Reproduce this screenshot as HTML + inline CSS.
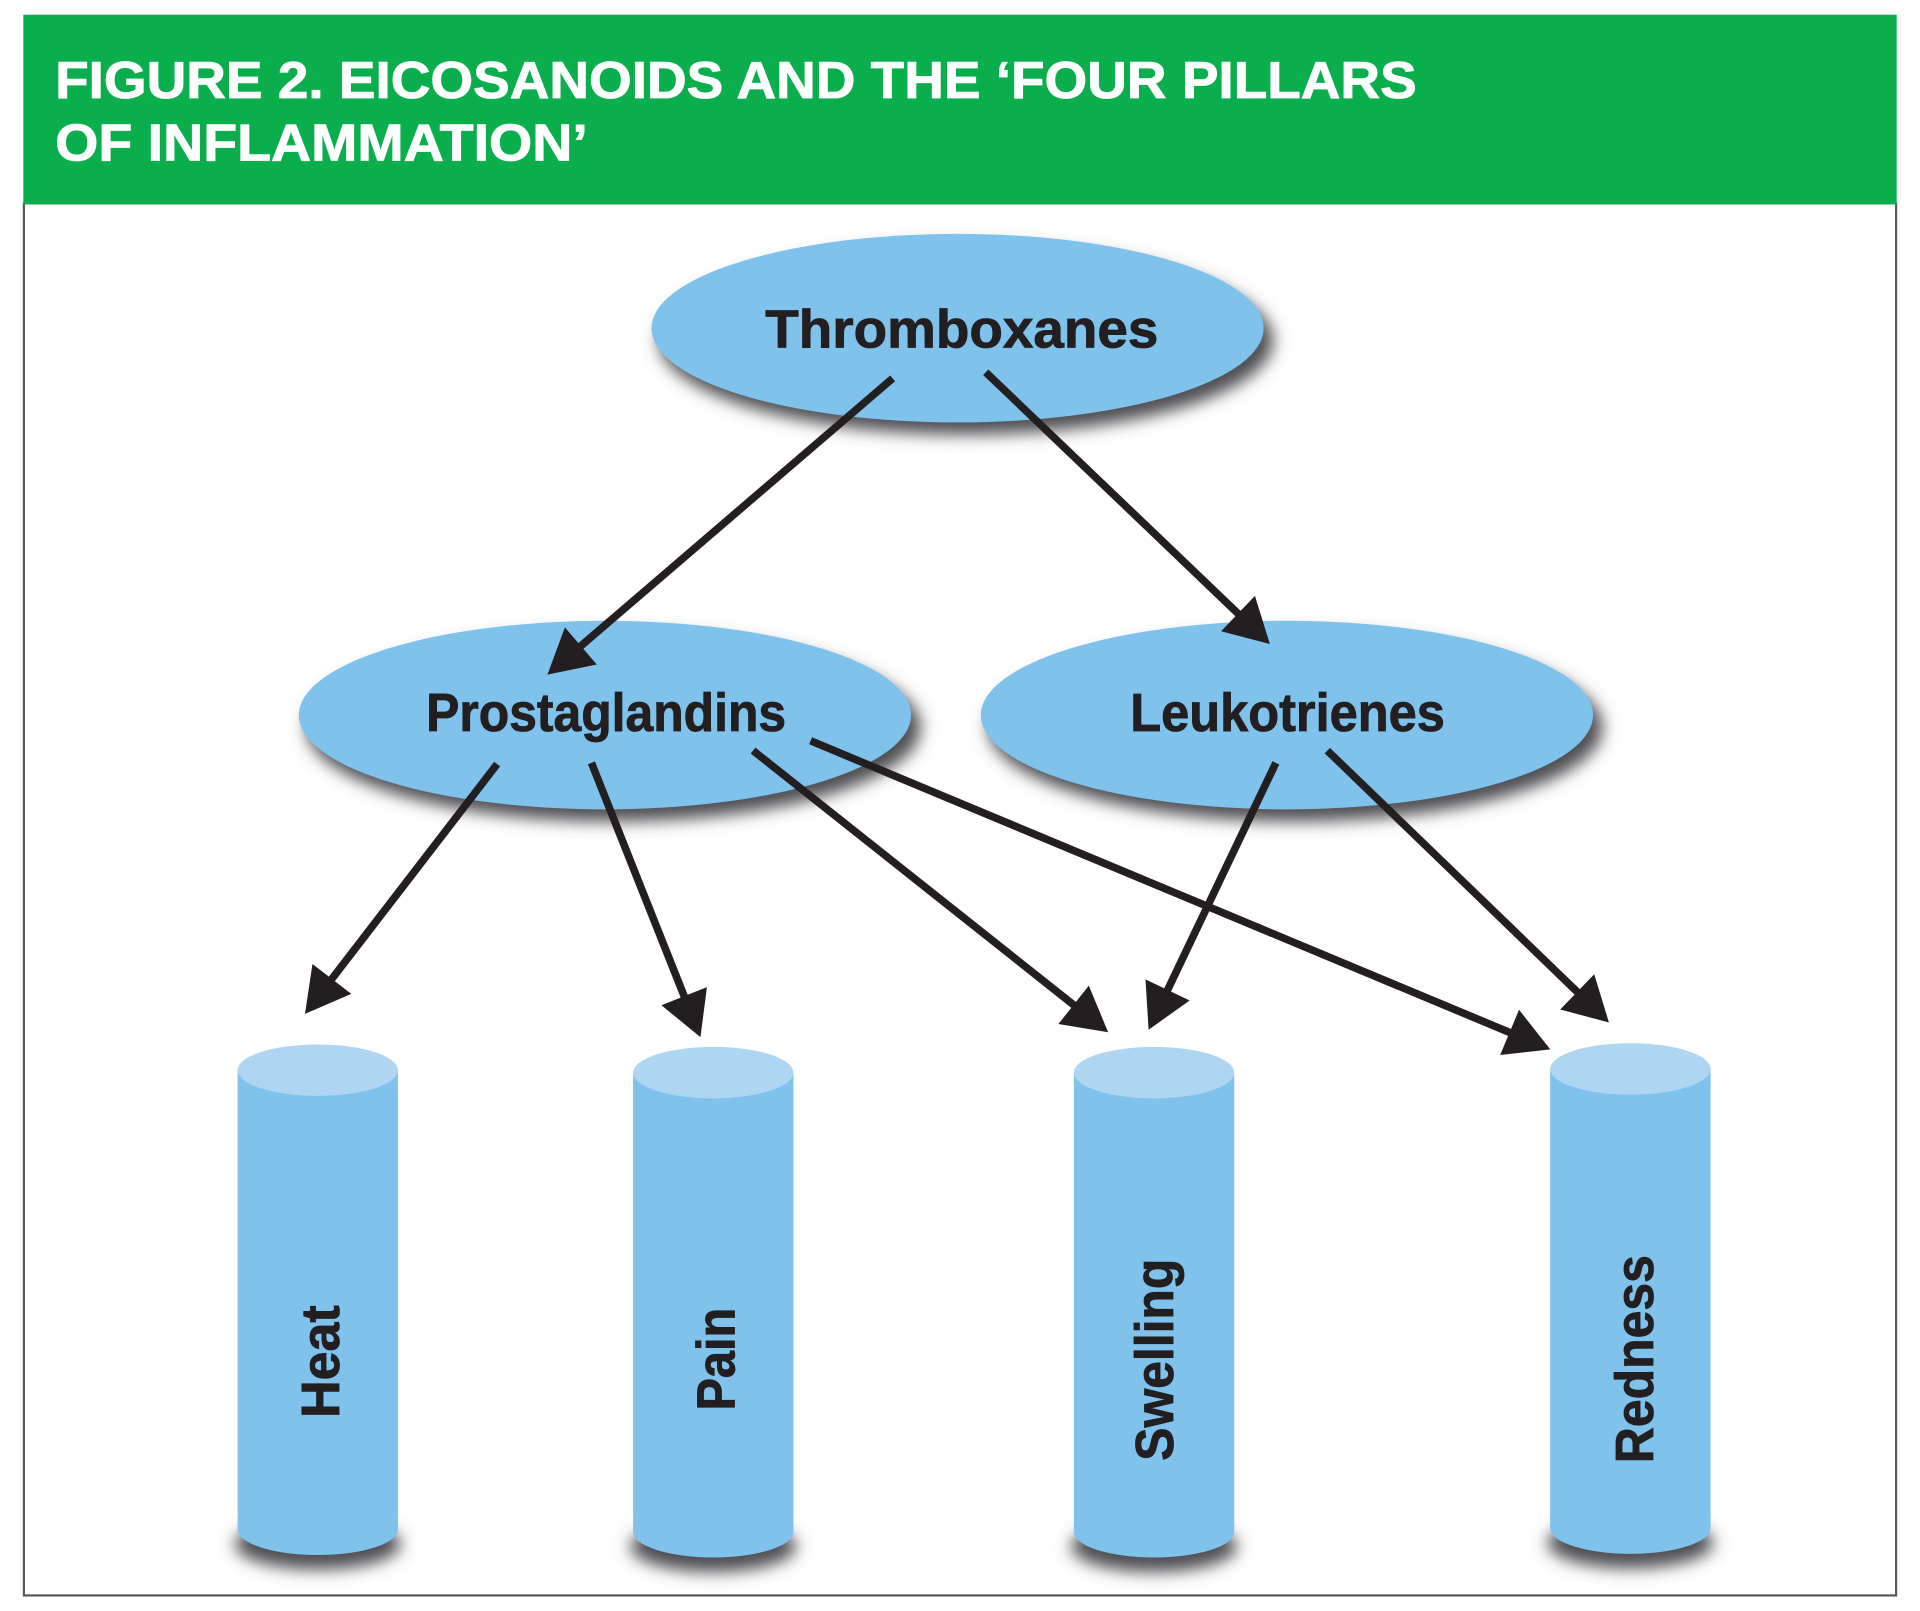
<!DOCTYPE html>
<html><head><meta charset="utf-8"><title>Figure 2</title>
<style>html,body{margin:0;padding:0;background:#fff}svg{display:block}
text{font-family:"Liberation Sans",Arial,sans-serif;font-weight:bold;fill:#231f20}
.h{fill:#fff;stroke:#fff;stroke-width:.7px;font-size:42.5px}.l{font-size:44px;stroke:#231f20;stroke-width:.7px}</style></head>
<body>
<svg xmlns="http://www.w3.org/2000/svg" width="1920" height="1611" viewBox="0 0 1568 1315.7">
<defs>
<filter id="b" filterUnits="userSpaceOnUse" x="0" y="0" width="1568" height="1316"><feGaussianBlur stdDeviation="6.5"/></filter>
<marker id="a" markerUnits="userSpaceOnUse" markerWidth="80" markerHeight="80" refX="40" refY="40" orient="auto" overflow="visible">
<polygon points="29,20 65,40 29,60" fill="#231f20"/></marker>
</defs>
<rect width="1568" height="1316" fill="#fff"/>
<rect x="19.5" y="166" width="1529" height="1137" fill="#fff" stroke="#58585a" stroke-width="1.8"/>
<rect x="19" y="12" width="1530" height="155" fill="#0bae4d"/>
<text class="h" x="45" y="80" textLength="1112" lengthAdjust="spacingAndGlyphs">FIGURE 2. EICOSANOIDS AND THE ‘FOUR PILLARS</text>
<text class="h" x="45" y="131" textLength="435" lengthAdjust="spacingAndGlyphs">OF INFLAMMATION’</text>

<g fill="#505052" filter="url(#b)">
<ellipse cx="789" cy="278" rx="251" ry="77"/>
<ellipse cx="501" cy="594" rx="251" ry="77"/>
<ellipse cx="1058" cy="594" rx="251" ry="77"/>
<ellipse cx="259.5" cy="1261" rx="68" ry="21"/>
<ellipse cx="582.5" cy="1263" rx="68" ry="21"/>
<ellipse cx="942.5" cy="1263" rx="68" ry="21"/>
<ellipse cx="1331.5" cy="1260" rx="68" ry="21"/>
</g>
<g fill="#7fc3ed">
<ellipse cx="782" cy="268" rx="250" ry="77"/>
<ellipse cx="494" cy="584" rx="250" ry="77"/>
<ellipse cx="1051" cy="584" rx="250" ry="77"/>
</g>
<g fill="#7fc3ed">
<path d="M194,874V1249A65.5,21 0 0 0 325,1249V874Z"/>
<path d="M517,876V1251A65.5,21 0 0 0 648,1251V876Z"/>
<path d="M877,876V1251A65.5,21 0 0 0 1008,1251V876Z"/>
<path d="M1266,873V1248A65.5,21 0 0 0 1397,1248V873Z"/>
</g>
<g fill="#aed6f3">
<ellipse cx="259.5" cy="874" rx="65.5" ry="21"/>
<ellipse cx="582.5" cy="876" rx="65.5" ry="21"/>
<ellipse cx="942.5" cy="876" rx="65.5" ry="21"/>
<ellipse cx="1331.5" cy="873" rx="65.5" ry="21"/>
</g>

<text class="l" x="625" y="284" textLength="321" lengthAdjust="spacingAndGlyphs">Thromboxanes</text>
<text class="l" x="348" y="597" textLength="294" lengthAdjust="spacingAndGlyphs">Prostaglandins</text>
<text class="l" x="923" y="597" textLength="257" lengthAdjust="spacingAndGlyphs">Leukotrienes</text>
<text class="l" transform="translate(277 1158) rotate(-90)" textLength="92" lengthAdjust="spacingAndGlyphs">Heat</text>
<text class="l" transform="translate(600 1152) rotate(-90)" textLength="84" lengthAdjust="spacingAndGlyphs">Pain</text>
<text class="l" transform="translate(958 1193) rotate(-90)" textLength="165" lengthAdjust="spacingAndGlyphs">Swelling</text>
<text class="l" transform="translate(1350 1195) rotate(-90)" textLength="170" lengthAdjust="spacingAndGlyphs">Redness</text>

<g stroke="#231f20" stroke-width="6.2" fill="none">
<line x1="729" y1="309" x2="466" y2="534.7" marker-end="url(#a)"/>
<line x1="805" y1="304" x2="1019" y2="508.7" marker-end="url(#a)"/>
<line x1="406" y1="624" x2="264.3" y2="808.2" marker-end="url(#a)"/>
<line x1="483" y1="623" x2="562.8" y2="823.8" marker-end="url(#a)"/>
<line x1="615" y1="613" x2="885.4" y2="827.5" marker-end="url(#a)"/>
<line x1="662" y1="605" x2="1243" y2="847.4" marker-end="url(#a)"/>
<line x1="1042" y1="623" x2="948.8" y2="818.4" marker-end="url(#a)"/>
<line x1="1084" y1="613" x2="1296" y2="817.7" marker-end="url(#a)"/>
</g>
</svg>
</body></html>
